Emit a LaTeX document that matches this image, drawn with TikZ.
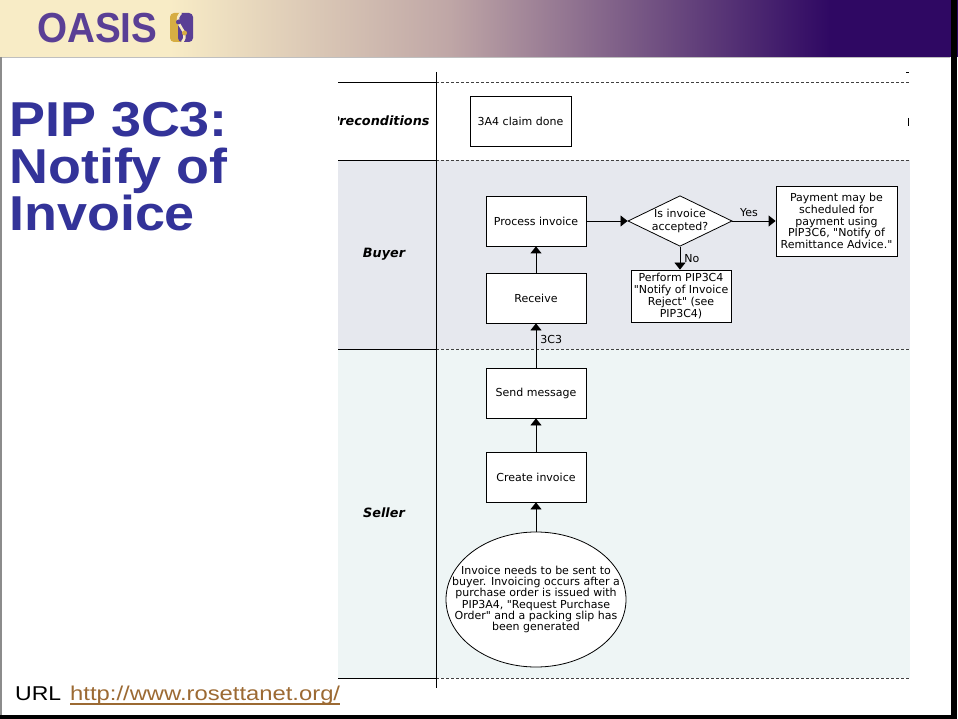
\documentclass[tikz,border=0pt]{standalone}
\usepackage{fontspec}
\setmainfont{Liberation Sans}
\newfontfamily\boxfont{DejaVu Sans}
\usetikzlibrary{shapes.geometric,arrows.meta}

\definecolor{hdcream}{HTML}{F8ECC6}
\definecolor{hdmauve}{HTML}{BFA6A6}
\definecolor{hdpurple}{HTML}{2F0863}
\definecolor{oasispurple}{HTML}{5A3F95}
\definecolor{oasisgold}{HTML}{D6AD42}
\definecolor{titleblue}{HTML}{333399}
\definecolor{linkbrown}{HTML}{9C6A33}
\definecolor{buyerfill}{HTML}{E6E8EE}
\definecolor{sellerfill}{HTML}{EEF5F5}

\tikzset{
  stepbox/.style={draw, fill=white, line width=0.8pt, minimum width=100pt,
    minimum height=50pt, inner sep=1pt, align=center,
    font=\boxfont\fontsize{11}{11.8}\selectfont},
  decision/.style={draw, diamond, fill=white, line width=0.8pt, aspect=2.06,
    inner sep=0pt, minimum width=103pt, minimum height=50pt, align=center,
    font=\boxfont\fontsize{11}{12.5}\selectfont},
  flow/.style={-{Triangle[width=11pt,length=7pt]}, line width=0.8pt},
  lanedash/.style={line width=0.8pt, black!75, dash pattern=on 3pt off 2pt},
  lanelabel/.style={font=\boxfont\bfseries\itshape\fontsize{12.8}{14}\selectfont},
  edgelabel/.style={inner sep=1pt, font=\boxfont\fontsize{11}{12}\selectfont}
}

\begin{document}
\begin{tikzpicture}[x=1pt,y=-1pt]
  \useasboundingbox (0,0) rectangle (958,719);
  \fill[white] (0,0) rectangle (958,719);
  % header band
  \fill[hdcream] (0,0) rectangle (170,57);
  \shade[left color=hdcream, right color=hdmauve] (170,0) rectangle (450,57);
  \shade[left color=hdmauve, right color=hdpurple] (450,0) rectangle (830,57);
  \fill[hdpurple] (830,0) rectangle (958,57);
  \draw[black!25, line width=1pt] (0,57.5) -- (950,57.5);
  \node[anchor=base west, inner sep=0pt, text=oasispurple, xscale=0.92,
    font=\fontsize{42}{42}\selectfont\bfseries] (oasis) at (37,43) {OASIS};
  \fill[oasisgold, rounded corners=4pt] (170,13) rectangle (186,42);
  \fill[oasispurple, rounded corners=4pt] (178,13) rectangle (193,42);
  \draw[hdcream, line width=2.5pt] (181,13) .. controls (170,24) and (192,31) .. (182,42);
  \fill[oasispurple] (178.5,22) circle [radius=2.5];
  \fill[oasisgold] (184.5,33) circle [radius=2.5];
  % title
  \node[anchor=base west, inner sep=0pt, text=titleblue, xscale=1.1,
    font=\fontsize{49}{47}\selectfont\bfseries] (title1) at (9,137) {PIP 3C3:};
  \node[anchor=base west, inner sep=0pt, text=titleblue, xscale=1.1,
    font=\fontsize{49}{47}\selectfont\bfseries] (title2) at (9,184) {Notify of};
  \node[anchor=base west, inner sep=0pt, text=titleblue, xscale=1.1,
    font=\fontsize{49}{47}\selectfont\bfseries] (title3) at (9,231) {Invoice};

  % lanes
  \fill[buyerfill] (338,160) rectangle (910,349);
  \fill[sellerfill] (338,349) rectangle (910,678);
  \foreach \y in {82,160,349,678} {
    \draw[line width=0.8pt] (338,\y) -- (436,\y);
    \draw[lanedash] (436,\y) -- (910,\y);
  }
  \draw[line width=0.8pt] (436,72) -- (436,688);
  \draw[line width=0.8pt] (906,72) -- (909,72);
  \draw[line width=1pt] (908.5,118) -- (908.5,126);
  \begin{scope}
    \clip (338,82) rectangle (436,160);
    \node[lanelabel, anchor=east] (pre) at (433,121) {Preconditions};
  \end{scope}
  \node[lanelabel] (buyer) at (384,254) {Buyer};
  \node[lanelabel] (seller) at (384,513) {Seller};

  % steps
  \node[stepbox, minimum width=101pt] (claim) at (520.5,121) {3A4 claim done};
  \node[stepbox] (process) at (536,221) {Process invoice};
  \node[stepbox] (receive) at (536,298) {Receive};
  \node[stepbox] (send) at (536,393) {Send message};
  \node[stepbox] (create) at (536,477) {Create invoice};
  \node[draw, ellipse, fill=white, line width=0.8pt, minimum width=180pt,
    minimum height=135pt] (need) at (536,599.5) {};
  \node[align=center, inner sep=0pt, font=\boxfont\fontsize{11}{11.3}\selectfont]
    (needtext) at (need.center) {Invoice needs to be sent to\\buyer. Invoicing occurs after a\\purchase order is issued with\\PIP3A4, "Request Purchase\\Order" and a packing slip has\\been generated};
  \node[decision] (accepted) at (680,221) {Is invoice\\accepted?};
  \node[stepbox, minimum height=52pt] (reject) at (681,296)
    {Perform PIP3C4\\"Notify of Invoice\\Reject" (see\\PIP3C4)};
  \node[stepbox, minimum width=121pt, minimum height=70pt] (payment) at (836.5,221)
    {Payment may be\\scheduled for\\payment using\\PIP3C6, "Notify of\\Remittance Advice."};

  % flows
  \draw[flow] (need) -- (create);
  \draw[flow] (create) -- (send);
  \draw[flow] (send) -- node[edgelabel, right=3pt, pos=0.64] {3C3} (receive);
  \draw[flow] (receive) -- (process);
  \draw[flow] (process) -- (accepted);
  \draw[flow] (accepted) -- node[edgelabel, above=3pt, pos=0.38] {Yes} (payment);
  \draw[flow] (accepted.south) -- node[edgelabel, right=3pt, pos=0.5] {No} (reject.north -| accepted.south);

  % url
  \node[anchor=base west, inner sep=0pt, xscale=1.15,
    font=\fontsize{20}{24}\selectfont] (url) at (15,700) {URL};
  \node[anchor=base west, inner sep=0pt, xscale=1.19, text=linkbrown,
    font=\fontsize{20}{24}\selectfont] (link) at (70,700) {http://www.rosettanet.org/};
  \draw[linkbrown, line width=1.6pt] ([yshift=-4pt]link.base west) -- ([yshift=-4pt]link.base east);

  % slide edges
  \fill[black] (950.5,0) rectangle (956.5,719);
  \fill[black] (0,715) rectangle (956.5,719);
  \draw[black!45, line width=1.5pt] (0.75,57) -- (0.75,715);
\end{tikzpicture}
\end{document}
